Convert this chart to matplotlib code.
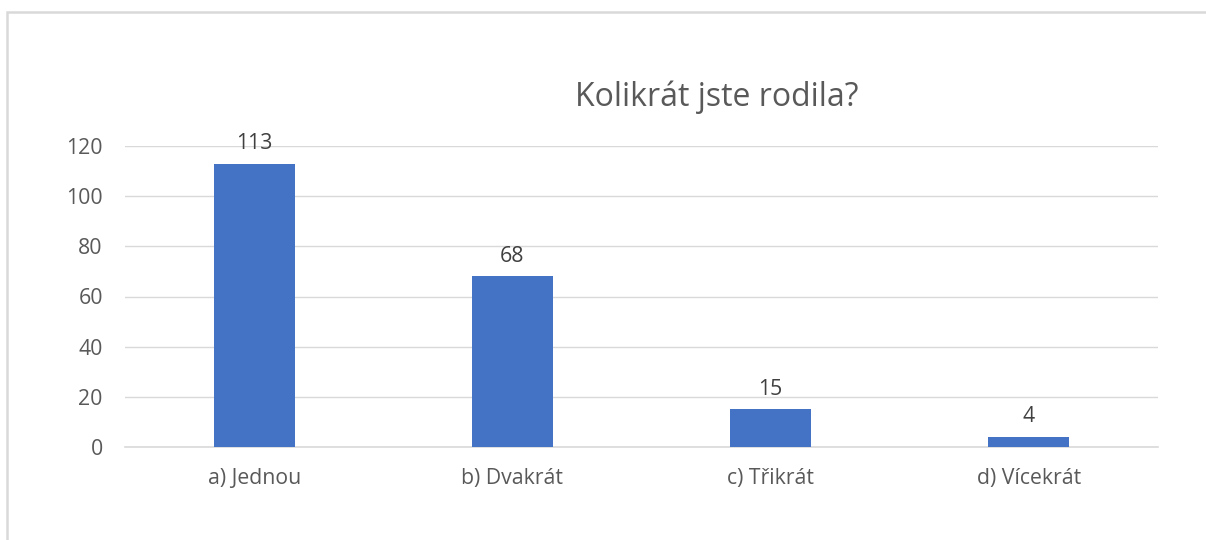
import matplotlib
matplotlib.use("Agg")
import matplotlib.pyplot as plt
from matplotlib.patches import Rectangle

categories = ["a) Jednou", "b) Dvakrát", "c) Třikrát", "d) Vícekrát"]
values = [113, 68, 15, 4]
yticks = [0, 20, 40, 60, 80, 100, 120]
title = "Kolikrát jste rodila?"

plt.rcParams['font.family'] = ['Open Sans', 'DejaVu Sans']
W, H = 1206, 540
fig = plt.figure(figsize=(W / 100, H / 100), dpi=100)
fig.patch.set_facecolor("white")

# chart frame (only left and top visible)
fig.add_artist(Rectangle((7 / W, -0.1), 1.2, 1 - 12 / H + 0.1, transform=fig.transFigure,
                         fill=False, edgecolor="#d9d9d9", linewidth=1.8))

ax = fig.add_axes([125 / W, 1 - 447 / H, (1158 - 125) / W, (447 - 146) / H])
x = list(range(len(categories)))
bars = ax.bar(x, values, width=0.314, color="#4472c4", zorder=3)
ax.set_xlim(-0.5, len(categories) - 0.5)
ax.set_ylim(0, 120)
ax.set_yticks(yticks)
ax.set_xticks(x)
ax.set_xticklabels(categories)
ax.grid(axis="y", color="#d9d9d9", linewidth=1.0, zorder=0)
for s in ["top", "right", "left"]:
    ax.spines[s].set_visible(False)
ax.spines["bottom"].set_color("#d9d9d9")
ax.spines["bottom"].set_linewidth(1.2)
ax.tick_params(axis="both", length=0, labelsize=15.3, colors="#595959")
ax.tick_params(axis="y", pad=16)
ax.tick_params(axis="x", pad=15)
for xi, v in zip(x, values):
    ax.annotate(str(v), (xi, v), xytext=(0, 7), textcoords="offset points",
                ha="center", va="bottom", fontsize=15.3, color="#404040")
fig.text(717 / W, 1 - 97 / H, title, ha="center", va="center", fontsize=23, color="#595959")

fig.savefig("out.png", dpi=100)
